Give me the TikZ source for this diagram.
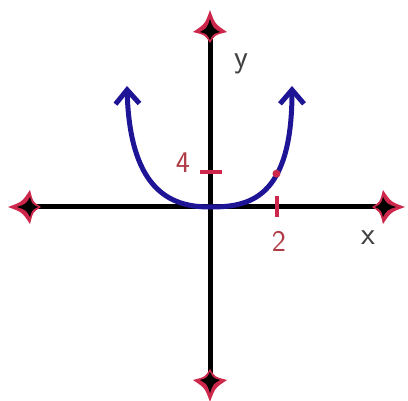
\documentclass[tikz,border=0pt]{standalone}
\usepackage{tikz}
\usetikzlibrary{arrows.meta}
\definecolor{axisred}{RGB}{205,40,75}
\definecolor{curveblue}{RGB}{30,20,150}
\definecolor{ticktext}{RGB}{175,60,70}
\tikzset{
  axisline/.style={line width=5pt, black},
  parab/.style={line width=5pt, curveblue,
    {Straight Barb[length=14pt,width=24pt]}-{Straight Barb[length=14pt,width=24pt]}},
  tickmark/.style={line width=4pt, axisred},
  dotmark/.style={circle, fill=axisred, inner sep=0pt, minimum size=8pt},
  ticklbl/.style={font=\fontsize{30}{30}\selectfont\sffamily, ticktext},
  axislbl/.style={font=\fontsize{32}{32}\selectfont\sffamily, black!75},
  pics/axistip/.style={code={
    \fill[axisred] (0,-22) .. controls (5,-8) .. (17,0) .. controls (5,3) .. (0,11)
      .. controls (-5,3) .. (-17,0) .. controls (-5,-8) .. (0,-22);
    \fill[black] (0,-13) .. controls (3,-4) .. (10,0) .. controls (3,2) .. (0,8)
      .. controls (-3,2) .. (-10,0) .. controls (-3,-4) .. (0,-13);
  }}
}
\begin{document}
\begin{tikzpicture}[x=1pt, y=-1pt]
\useasboundingbox (0,0) rectangle (408,401);
\coordinate (o) at (210,207);
\coordinate (top) at (210,32);
\coordinate (bot) at (210,380);
\coordinate (lft) at (30,207);
\coordinate (rgt) at (383,207);
\coordinate (lt) at (127,86);
\coordinate (rt) at (292,86);
\coordinate (xt) at (277,207);
\coordinate (yt) at (210,172);
\draw[axisline] (top) -- (bot);
\draw[axisline] (lft) -- (rgt);
\pic at (top) {axistip};
\pic[rotate=180] at (bot) {axistip};
\pic[rotate=90] at (lft) {axistip};
\pic[rotate=-90] at (rgt) {axistip};
\draw[tickmark] ([yshift=-10pt]xt) -- ([yshift=11pt]xt);
\draw[tickmark] ([xshift=-10pt]yt) -- ([xshift=12pt]yt);
\draw[parab] (lt) .. controls (130,195) and (175,207) .. (o)
  .. controls (248,207) and (292,200) .. node[dotmark, pos=0.63] (pt) {} (rt);
\node[ticklbl] (four) at (183,163) {4};
\node[ticklbl] (two) at (279,241) {2};
\node[axislbl] (ylbl) at (241,64) {y};
\node[axislbl] (xlbl) at (368,238) {x};
\end{tikzpicture}
\end{document}
